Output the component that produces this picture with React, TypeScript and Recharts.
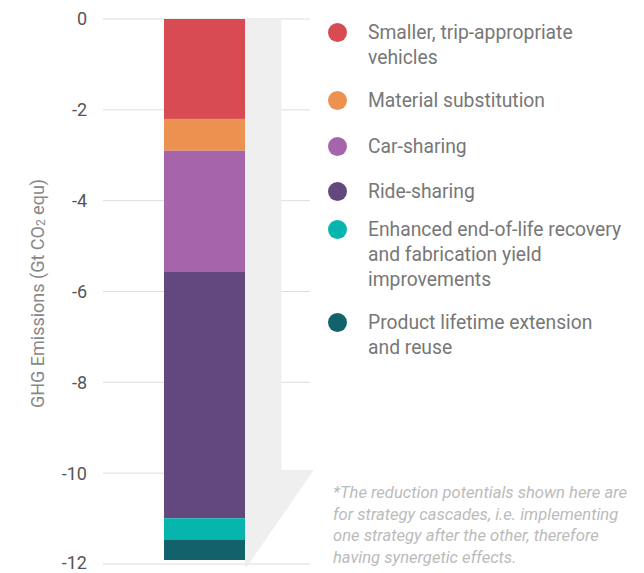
import { BarChart, Bar, XAxis, YAxis, CartesianGrid } from "recharts"

const categories = ["Cascade"]
const strategies = [
    "Smaller, trip-appropriate vehicles",
    "Material substitution",
    "Car-sharing",
    "Ride-sharing",
    "Enhanced end-of-life recovery and fabrication yield improvements",
    "Product lifetime extension and reuse",
]
const reductions = [-2.2, -0.7, -2.67, -5.42, -0.48, -0.44]
const colors = ["#D84B52", "#ED9150", "#A665AA", "#63487D", "#06B6AE", "#12626B"]
const yTicks = [0, -2, -4, -6, -8, -10, -12]
const footnote = [
    "*The reduction potentials shown here are",
    "for strategy cascades, i.e. implementing",
    "one strategy after the other, therefore",
    "having synergetic effects.",
]

// arrow behind the cascade: band down to shoulder, then tip
const arrowShoulder = -9.93
const arrowTip = -12.06

// legend layout (centre of first line for each entry)
const legendTops = [32, 100, 146, 191, 229, 322]

const keys = strategies.map((_, i) => `s${i}`)
const chartData = categories.map(name => {
    const row: Record<string, string | number> = { name }
    keys.forEach((k, i) => { row[k] = reductions[i] })
    return row
})

const FONT = "Roboto, 'Noto Sans', sans-serif"

function FirstSegment(props: any) {
    const { x, y, width, height, fill } = props
    const top = Math.min(y, y + height)
    const h = Math.abs(height)
    const unit = h / Math.abs(reductions[0])
    const right = x + width
    const shoulderY = top + Math.abs(arrowShoulder) * unit
    const tipY = top + Math.abs(arrowTip) * unit
    const bandW = width * 0.45
    const headW = width * 0.85
    const path = `M${right},${top} L${right + bandW},${top} L${right + bandW},${shoulderY} L${right + headW},${shoulderY} L${right + 2},${tipY} L${right},${tipY} Z`
    return (
        <g>
            <path d={path} fill="#EFEFEF" />
            <rect x={x} y={top} width={width} height={h} fill={fill} />
        </g>
    )
}

function AxisTitle({ viewBox }: any) {
    const cx = 37
    const cy = viewBox.y + viewBox.height / 2 + 2
    return (
        <text
            x={cx} y={cy}
            transform={`rotate(-90 ${cx} ${cy})`}
            textAnchor="middle"
            dominantBaseline="central"
            fill="#888"
            fontSize={18}
            fontFamily={FONT}
        >
            GHG Emissions (Gt CO<tspan fontSize={12} dy={4}>2</tspan><tspan dy={-4}> equ)</tspan>
        </text>
    )
}

export default function App() {
    return (
        <div style={{ position: "absolute", left: 0, top: 0, width: 644, height: 573, background: "#fff", fontFamily: FONT }}>
            <BarChart
                width={644}
                height={573}
                data={chartData}
                stackOffset="sign"
                barSize={81}
                margin={{ top: 19, right: 334, bottom: 9, left: 0 }}
            >
                <CartesianGrid vertical={false} stroke="#DDDDDD" />
                <XAxis dataKey="name" hide padding={{ left: 0, right: 4 }} />
                <YAxis
                    type="number"
                    domain={[-12, 0]}
                    ticks={yTicks}
                    width={103}
                    axisLine={false}
                    tickLine={false}
                    tickSize={0}
                    tickMargin={16}
                    tick={{ fill: "#555", fontSize: 18, fontFamily: FONT }}
                    label={{ content: AxisTitle }}
                />
                {keys.map((k, i) => (
                    <Bar
                        key={k}
                        dataKey={k}
                        name={strategies[i]}
                        stackId="cascade"
                        fill={colors[i]}
                        isAnimationActive={false}
                        shape={i === 0 ? FirstSegment : undefined}
                    />
                ))}
            </BarChart>

            {strategies.map((s, i) => (
                <div key={s} style={{ position: "absolute", left: 328, top: legendTops[i] - 12.5, display: "flex", alignItems: "flex-start" }}>
                    <span style={{ width: 19, height: 19, borderRadius: "50%", background: colors[i], marginTop: 3, flexShrink: 0 }} />
                    <span style={{ marginLeft: 21, width: 256, fontSize: 19.3, lineHeight: "25px", color: "#777" }}>{s}</span>
                </div>
            ))}

            <div style={{ position: "absolute", left: 333, top: 482, fontSize: 16.6, lineHeight: "21.5px", fontStyle: "italic", color: "#BBBBBB", whiteSpace: "nowrap" }}>
                {footnote.map(line => <div key={line}>{line}</div>)}
            </div>
        </div>
    )
}
